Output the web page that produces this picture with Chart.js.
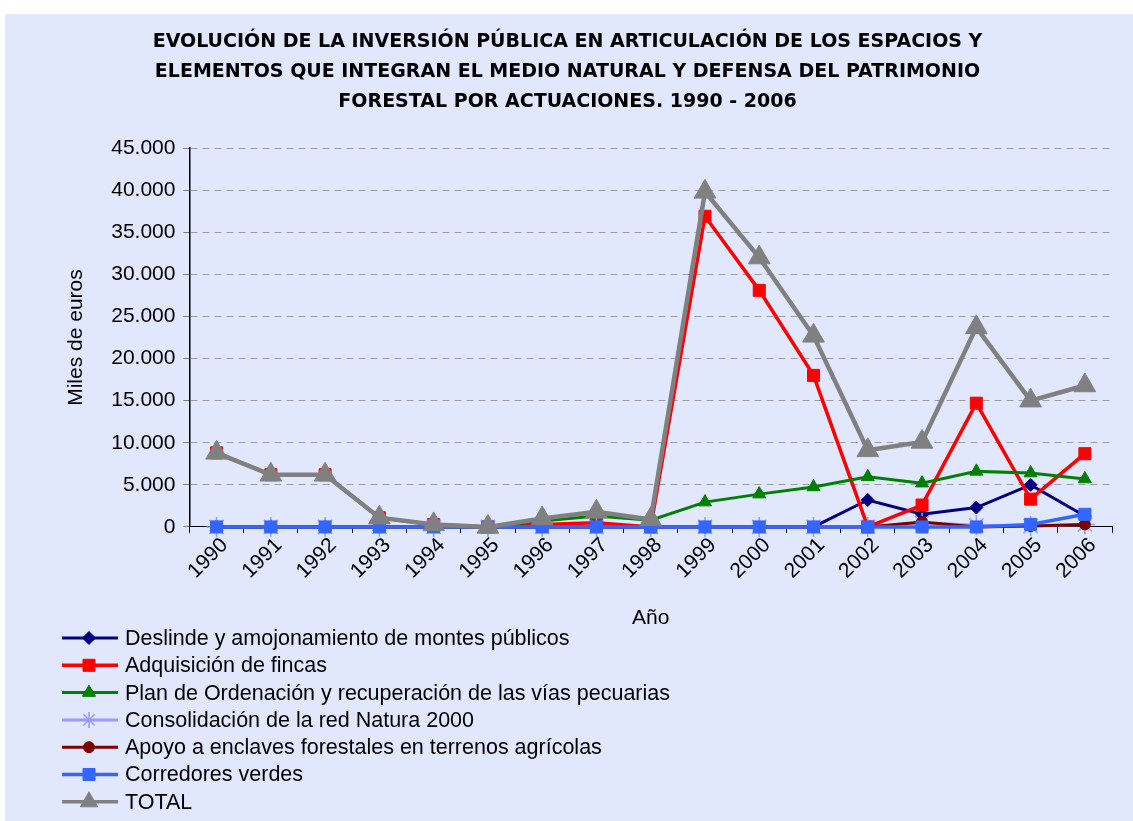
<!DOCTYPE html>
<html lang="es">
<head>
<meta charset="utf-8">
<title>Inversión pública 1990 - 2006</title>
<script src="https://cdn.jsdelivr.net/npm/chart.js@4.4.1/dist/chart.umd.min.js"></script>
<style>
  html, body { margin: 0; padding: 0; background: #ffffff; }
  #panel {
    position: absolute;
    left: 5px;
    top: 14px;
    width: 1128px;
    height: 807px;
    background: #e1e7fd;
  }
  #chart { display: block; }
</style>
</head>
<body>
<div id="panel">
  <canvas id="chart" width="1128" height="807"></canvas>
</div>
<script>
// Miles de euros por año y actuación
const years = ['1990', '1991', '1992', '1993', '1994', '1995', '1996', '1997', '1998',
               '1999', '2000', '2001', '2002', '2003', '2004', '2005', '2006'];

const deslinde      = [0, 0, 0, 0, 0, 0, 0, 0, 0, 0, 0, 0, 3200, 1500, 2300, 5000, 1300];
const adquisicion   = [8800, 6200, 6200, 1100, 300, 0, 300, 500, 0, 36900, 28100, 18000, 0, 2600, 14700, 3300, 8700];
const planVias      = [0, 0, 0, 0, 0, 0, 700, 1300, 800, 2950, 3900, 4750, 5950, 5200, 6600, 6400, 5700];
const natura2000    = [0, 0, 0, 0, 0, 0, 0, 0, 0, 0, 0, 0, 0, 500, 200, 100, 300];
const enclaves      = [0, 0, 0, 0, 0, 0, 0, 0, 0, 0, 0, 0, 0, 600, 0, 100, 300];
const corredores    = [0, 0, 0, 0, 0, 0, 0, 0, 0, 0, 0, 0, 0, 0, 0, 300, 1500];
const total         = [8800, 6200, 6200, 1100, 300, 0, 1000, 1800, 900, 39800, 32000, 22700, 9100, 10100, 23700, 15000, 16800];

const titleLines = [
  'EVOLUCIÓN DE LA INVERSIÓN PÚBLICA EN ARTICULACIÓN DE LOS ESPACIOS Y',
  'ELEMENTOS QUE INTEGRAN EL MEDIO NATURAL Y DEFENSA DEL PATRIMONIO',
  'FORESTAL POR ACTUACIONES. 1990 - 2006'
];

const FONT = "'Liberation Sans', Arial, Helvetica, sans-serif";
const TITLE_FONT = "'DejaVu Sans', 'Liberation Sans', Arial, sans-serif";

// 45000 -> "45.000"
function miles(v) {
  return String(v).replace(/\B(?=(\d{3})+(?!\d))/g, '.');
}

function serie(label, data, color, style, radius, width, order) {
  return {
    label: label,
    data: data,
    borderColor: color,
    backgroundColor: color,
    pointBackgroundColor: color,
    pointBorderColor: color,
    pointBorderWidth: style === 'star' ? 1.5 : 1,
    pointStyle: style,
    pointRadius: radius,
    pointHoverRadius: radius,
    borderWidth: width,
    tension: 0,
    fill: false,
    clip: false,
    order: order
  };
}

// legend drawn one entry per row under the axis title
const rowLegend = {
  id: 'rowLegend',
  afterDraw(chart) {
    const ctx = chart.ctx;
    const top = 624, step = 27.3;
    chart.data.datasets.forEach((ds, i) => {
      const y = top + i * step;
      ctx.save();
      ctx.strokeStyle = ds.borderColor;
      ctx.lineWidth = Math.min(ds.borderWidth, 3.5);
      ctx.beginPath();
      ctx.moveTo(57, y);
      ctx.lineTo(113, y);
      ctx.stroke();
      ctx.fillStyle = ds.pointBackgroundColor;
      ctx.strokeStyle = ds.pointBorderColor;
      ctx.lineWidth = ds.pointBorderWidth;
      let r = ds.pointRadius;
      if (ds.pointStyle === 'triangle' && r > 8) r = 10;
      if (ds.pointStyle === 'star') r = 8;
      Chart.helpers.drawPoint(ctx, {
        pointStyle: ds.pointStyle, rotation: 0, radius: r, borderWidth: ds.pointBorderWidth
      }, 84, y);
      ctx.fillStyle = '#000000';
      ctx.font = '21.5px ' + FONT;
      ctx.textAlign = 'left';
      ctx.textBaseline = 'middle';
      ctx.fillText(ds.label, 120, y + 1);
      ctx.restore();
    });
  }
};

new Chart(document.getElementById('chart'), {
  type: 'line',
  data: {
    labels: years,
    datasets: [
      serie('Deslinde y amojonamiento de montes públicos', deslinde, '#000080', 'rectRot', 6.5, 3, 7),
      serie('Adquisición de fincas', adquisicion, '#ff0000', 'rect', 8.5, 3.5, 6),
      serie('Plan de Ordenación y recuperación de las vías pecuarias', planVias, '#008000', 'triangle', 7.5, 3, 5),
      serie('Consolidación de la red Natura 2000', natura2000, '#9999ff', 'star', 10, 3, 4),
      serie('Apoyo a enclaves forestales en terrenos agrícolas', enclaves, '#800000', 'circle', 5.5, 3, 3),
      serie('Corredores verdes', corredores, '#3366ff', 'rect', 8.5, 3.5, 2),
      serie('TOTAL', total, '#808080', 'triangle', 12.5, 4.5, 1)
    ]
  },
  options: {
    responsive: false,
    animation: false,
    layout: {
      padding: { top: 13, left: 18, right: 21, bottom: 190 }
    },
    plugins: {
      legend: { display: false },
      tooltip: { enabled: false },
      title: {
        display: true,
        text: titleLines,
        color: '#000000',
        font: { family: TITLE_FONT, size: 19, weight: 'bold', lineHeight: 1.58 },
        padding: { top: 0, bottom: 31 }
      }
    },
    scales: {
      x: {
        offset: true,
        grid: {
          offset: true,
          drawOnChartArea: false,
          drawTicks: true,
          tickLength: 6,
          tickColor: '#000000'
        },
        border: { display: true, color: '#000000', width: 1 },
        ticks: {
          color: '#000000',
          font: { family: FONT, size: 21 },
          minRotation: 45,
          maxRotation: 45,
          padding: 0,
          labelOffset: 8,
          autoSkip: false
        },
        title: {
          display: true,
          text: 'Año',
          color: '#000000',
          font: { family: FONT, size: 21 },
          padding: { top: 22, bottom: 0 }
        }
      },
      y: {
        min: 0,
        max: 45000,
        grid: {
          color: '#9c9ca4',
          lineWidth: 1,
          drawTicks: true,
          tickLength: 6,
          tickColor: '#808080'
        },
        border: { display: true, color: '#000000', width: 1.5, dash: [7, 5] },
        ticks: {
          stepSize: 5000,
          color: '#000000',
          font: { family: FONT, size: 21 },
          padding: 8,
          callback: (v) => miles(v)
        },
        title: {
          display: true,
          text: 'Miles de euros',
          color: '#000000',
          font: { family: FONT, size: 21 },
          padding: { top: 41, bottom: 14 }
        }
      }
    }
  },
  plugins: [rowLegend]
});
</script>
</body>
</html>
